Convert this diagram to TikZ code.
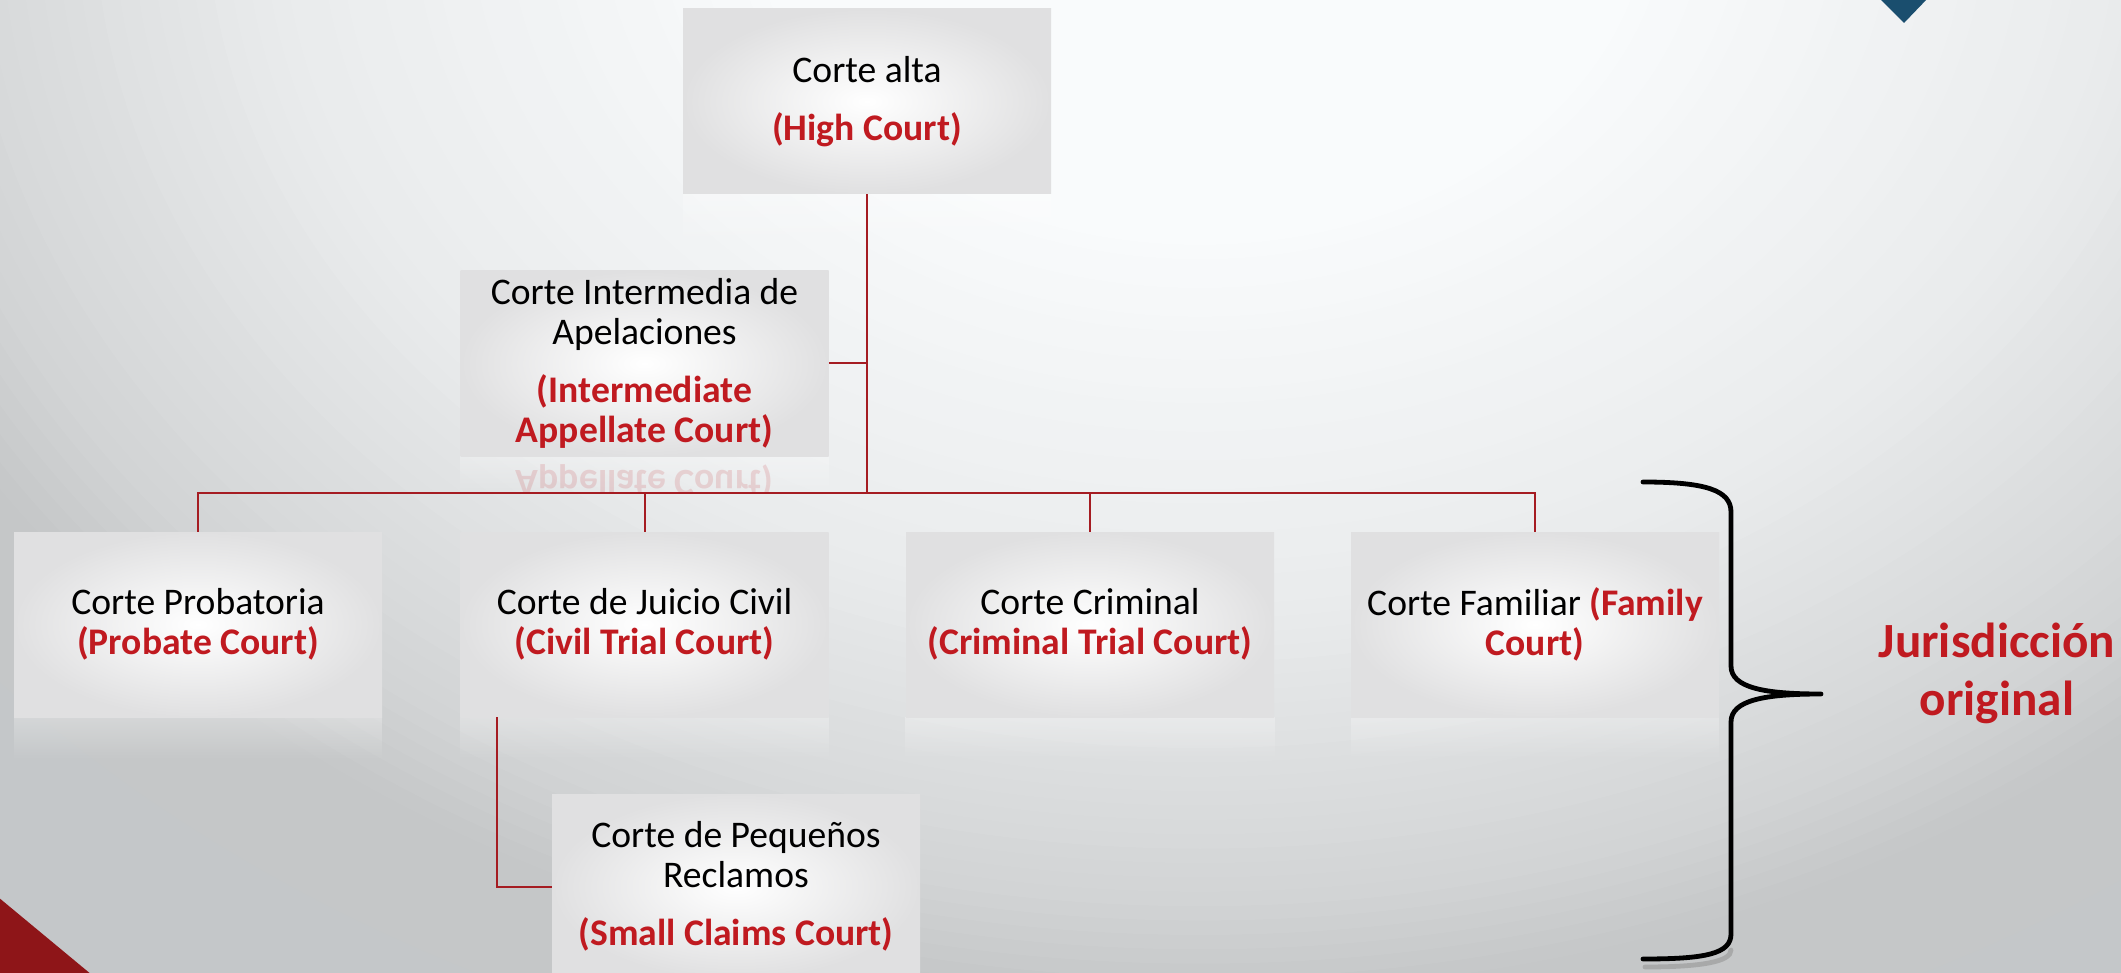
\documentclass[tikz,border=0pt]{standalone}
\usepackage{fontspec}
\setmainfont{Carlito}
\usetikzlibrary{fadings}
\definecolor{txtred}{RGB}{192,26,32}
\definecolor{linered}{RGB}{165,28,34}
\definecolor{boxedge}{RGB}{224,224,225}
\definecolor{bgE}{RGB}{196,199,201}
\definecolor{redtri}{RGB}{142,21,24}
\definecolor{bluetri}{RGB}{26,78,110}
\tikzfading[name=reflfade, top color=transparent!72, bottom color=transparent!100]
\newcommand\entxt[1]{{\bfseries\color{txtred}#1}}
\begin{document}
\begin{tikzpicture}[x=0.5pt,y=-0.5pt,
  court/.style={rectangle, minimum width=184pt, minimum height=92.5pt, inner sep=0pt,
    align=center, inner color=white, outer color=boxedge,
    font=\fontsize{18.8pt}{20pt}\selectfont},
  conn/.style={draw=linered, line width=1pt},
  refl/.style={fill=white, path fading=reflfade},
  bracestyle/.style={draw=black, line width=2.4pt, line cap=round, line join=round},
]
\useasboundingbox (0,0) rectangle (2121,973);
\clip (0,0) rectangle (2121,973);
% background
\fill[bgE] (0,0) rectangle (2121,973);
\foreach \i in {84,83,...,1}{
  \pgfmathsetmacro{\f}{\i/80}
  \pgfmathtruncatemacro{\g}{\f<0.3 ? 249 : (\f<0.62 ? 249-(\f-0.3)/0.32*15 : (\f<0.76 ? 234-(\f-0.62)/0.14*13 : (\f<0.87 ? 221-(\f-0.76)/0.11*10 : (\f<0.96 ? 211-(\f-0.87)/0.09*14 : 197))))}
  \pgfmathtruncatemacro{\gg}{\g+2}
  \pgfmathtruncatemacro{\gb}{min(\g+3,252)}
  \definecolor{tmpbg}{RGB}{\g,\gg,\gb}
  \fill[tmpbg] (1200,-100) ellipse [x radius=\f*1500, y radius=\f*1150];
}
% corner triangles
\fill[redtri] (-2,897) -- (-2,975) -- (92,975) -- cycle;
\fill[bluetri] (1879,-2) -- (1928,-2) -- (1904,23) -- cycle;
% reflections
\fill[refl] (683,194) rectangle (1051,250);
\fill[refl] (14,717) rectangle (382,760);
\fill[refl] (460,717) rectangle (829,760);
\fill[refl] (905,717) rectangle (1275,760);
\fill[refl] (1351,717) rectangle (1719,760);
\fill[refl] (460,456) rectangle (829,492);
\begin{scope}
  \clip (460,456) rectangle (829,491);
  \node[anchor=base, yscale=-1, transform shape, text=txtred, opacity=0.14,
        font=\fontsize{18.8pt}{20pt}\selectfont\bfseries] (reflt) at (644.5,470) {Appellate Court)};
\end{scope}
% boxes
\node[court] (high) at (867,101.5) {Corte alta\\[9pt]\entxt{(High Court)}};
\node[court] (inter) at (644.5,363.5) {Corte Intermedia de\\Apelaciones\\[9pt]\entxt{(Intermediate}\\\entxt{Appellate Court)}};
\node[court] (prob) at (198,624.5) {Corte Probatoria\\\entxt{(Probate Court)}};
\node[court] (civ) at (644.5,624.5) {Corte de Juicio Civil\\\entxt{(Civil Trial Court)}};
\node[court] (crim) at (1090,624.5) {Corte Criminal\\\entxt{(Criminal Trial Court)}};
\node[court] (fam) at (1535,624.5) {Corte Familiar \entxt{(Family}\\\entxt{Court)}};
\node[court] (small) at (736,886.5) {Corte de Peque\~nos\\Reclamos\\[9pt]\entxt{(Small Claims Court)}};
% connectors
\coordinate (bus) at (867,493);
\draw[conn] (high.south) -- (bus);
\draw[conn] (inter.east) -- (inter.east -| high.south);
\draw[conn] (prob.north) |- (bus) -| (fam.north);
\draw[conn] (civ.north) -- (civ.north |- bus);
\draw[conn] (crim.north) -- (crim.north |- bus);
\draw[conn] ([xshift=18.5pt]civ.south west) |- (small.west);
% brace
\draw[black!45, opacity=0.5, line width=2.4pt, line cap=round] (1645,967) .. controls (1700,967) and (1731,962) .. (1731,950);
\draw[bracestyle] (1643,482) .. controls (1705,482) and (1731,490) .. (1731,512)
  -- (1731,666) .. controls (1731,688) and (1765,694) .. (1821,694)
  .. controls (1765,694) and (1731,700) .. (1731,722)
  -- (1731,934) .. controls (1731,954) and (1705,959) .. (1643,959);
% label
\node[font=\fontsize{24.6pt}{29pt}\selectfont\bfseries, text=txtred, align=center] (jur) at (1997,673) {Jurisdicción\\original};
\end{tikzpicture}
\end{document}
